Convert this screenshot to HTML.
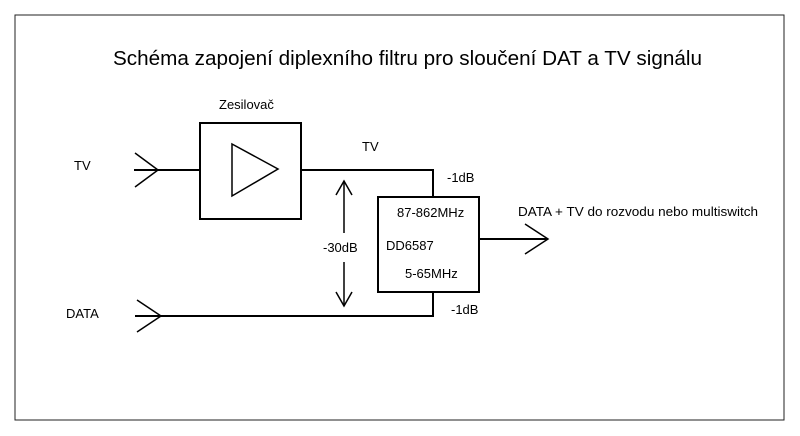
<!DOCTYPE html>
<html><head><meta charset="utf-8"><style>
html,body{margin:0;padding:0;background:#fff;}
svg{display:block;}
text{font-family:"Liberation Sans",sans-serif;fill:#000;}
</style></head><body>
<svg width="800" height="436" viewBox="0 0 800 436">
<rect x="15" y="15" width="769" height="405" fill="none" stroke="#222" stroke-width="1"/>
<text x="113" y="65" font-size="20.5" textLength="589" lengthAdjust="spacingAndGlyphs">Schéma zapojení diplexního filtru pro sloučení DAT a TV signálu</text>
<g stroke="#000" stroke-width="2" fill="none">
<rect x="200" y="123" width="101" height="96"/>
<polygon points="232,144 278,169 232,196" stroke-width="1.5"/>
<polyline points="134,170 200,170"/>
<polyline points="135,153 158,170 135,187" stroke-width="1.5"/>
<polyline points="301,170 433,170 433,197"/>
<rect x="378" y="197" width="101" height="95"/>
<polyline points="433,292 433,316 135,316"/>
<polyline points="137,300 161,316 137,332" stroke-width="1.5"/>
<line x1="479" y1="239" x2="548" y2="239"/>
<polyline points="525,224 548,239 525,254" stroke-width="1.5"/>
<line x1="344" y1="181" x2="344" y2="233" stroke-width="1.5"/>
<line x1="344" y1="262" x2="344" y2="306" stroke-width="1.5"/>
<polyline points="336,195 344,181 352,195" stroke-width="1.5"/>
<polyline points="336,292 344,306 352,292" stroke-width="1.5"/>
</g>
<g font-size="13">
<text x="74" y="170">TV</text>
<text x="66" y="318">DATA</text>
<text x="219" y="109">Zesilovač</text>
<text x="362" y="151">TV</text>
<text x="447" y="182">-1dB</text>
<text x="451" y="314">-1dB</text>
<text x="397" y="217">87-862MHz</text>
<text x="386" y="250">DD6587</text>
<text x="405" y="278">5-65MHz</text>
<text x="323" y="252">-30dB</text>
<text x="518" y="216" textLength="240" lengthAdjust="spacingAndGlyphs">DATA + TV do rozvodu nebo multiswitch</text>
</g>
</svg>
</body></html>
